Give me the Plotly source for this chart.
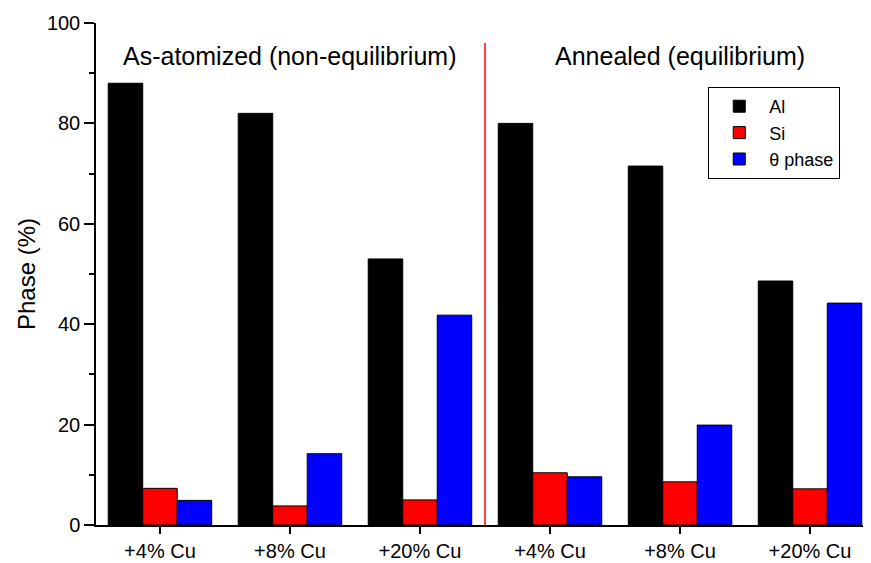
import plotly.graph_objects as go

groups = ["+4% Cu", "+8% Cu", "+20% Cu", "+4% Cu", "+8% Cu", "+20% Cu"]
al_vals = [88.0, 82.0, 53.0, 80.0, 71.5, 48.6]
si_vals = [7.3, 3.8, 5.0, 10.4, 8.6, 7.2]
theta_vals = [4.9, 14.2, 41.8, 9.6, 19.9, 44.2]
series_names = ["Al", "Si", "θ phase"]
series_colors = ["#000000", "#ff0000", "#0000ff"]
section_titles = ["As-atomized (non-equilibrium)", "Annealed (equilibrium)"]
y_ticks = [0, 20, 40, 60, 80, 100]

FONT = "Arial, Liberation Sans, sans-serif"
xpos = list(range(len(groups)))

fig = go.Figure()
for name, vals, col in zip(series_names, [al_vals, si_vals, theta_vals], series_colors):
    fig.add_trace(go.Bar(
        x=xpos, y=vals, name=name,
        marker=dict(color=col, line=dict(color="#000000", width=1)),
    ))

# divider between the two sections
fig.add_shape(type="line", xref="x", yref="y", x0=2.5, x1=2.5, y0=0, y1=96,
              line=dict(color="#ff0000", width=1.5))

fig.add_annotation(x=1, y=93.4, xref="x", yref="y", text=section_titles[0],
                   showarrow=False, font=dict(family=FONT, size=25, color="#000"))
fig.add_annotation(x=4, y=93.4, xref="x", yref="y", text=section_titles[1],
                   showarrow=False, font=dict(family=FONT, size=25, color="#000"))

fig.update_layout(
    width=863, height=555,
    margin=dict(l=88, r=0, t=15, b=38, autoexpand=False),
    paper_bgcolor="white", plot_bgcolor="white",
    barmode="group", bargap=0.204, bargroupgap=0,
    font=dict(family=FONT, color="#000"),
    legend=dict(
        x=0.79, y=0.8725, xanchor="left", yanchor="top",
        bgcolor="white", bordercolor="#000", borderwidth=1,
        font=dict(family=FONT, size=18, color="#000"),
        tracegroupgap=0, itemwidth=50,
    ),
    xaxis=dict(
        range=[-0.492, 5.469],
        tickmode="array", tickvals=xpos, ticktext=groups,
        ticks="outside", ticklen=7, tickwidth=1.5, tickcolor="#000",
        showline=True, linecolor="#000", linewidth=1.5,
        showgrid=False, zeroline=False,
        tickfont=dict(family=FONT, size=20, color="#000"),
    ),
    yaxis=dict(
        range=[0, 100],
        tickmode="array", tickvals=y_ticks,
        ticks="outside", ticklen=10, tickwidth=1.5, tickcolor="#000",
        minor=dict(dtick=10, ticks="outside", ticklen=5, tickwidth=1.5, tickcolor="#000"),
        showline=True, linecolor="#000", linewidth=1.5,
        showgrid=False, zeroline=False,
        tickfont=dict(family=FONT, size=20, color="#000"),
        title=dict(text="Phase (%)", font=dict(family=FONT, size=24, color="#000"), standoff=4),
    ),
)

fig.write_html("out.html")
